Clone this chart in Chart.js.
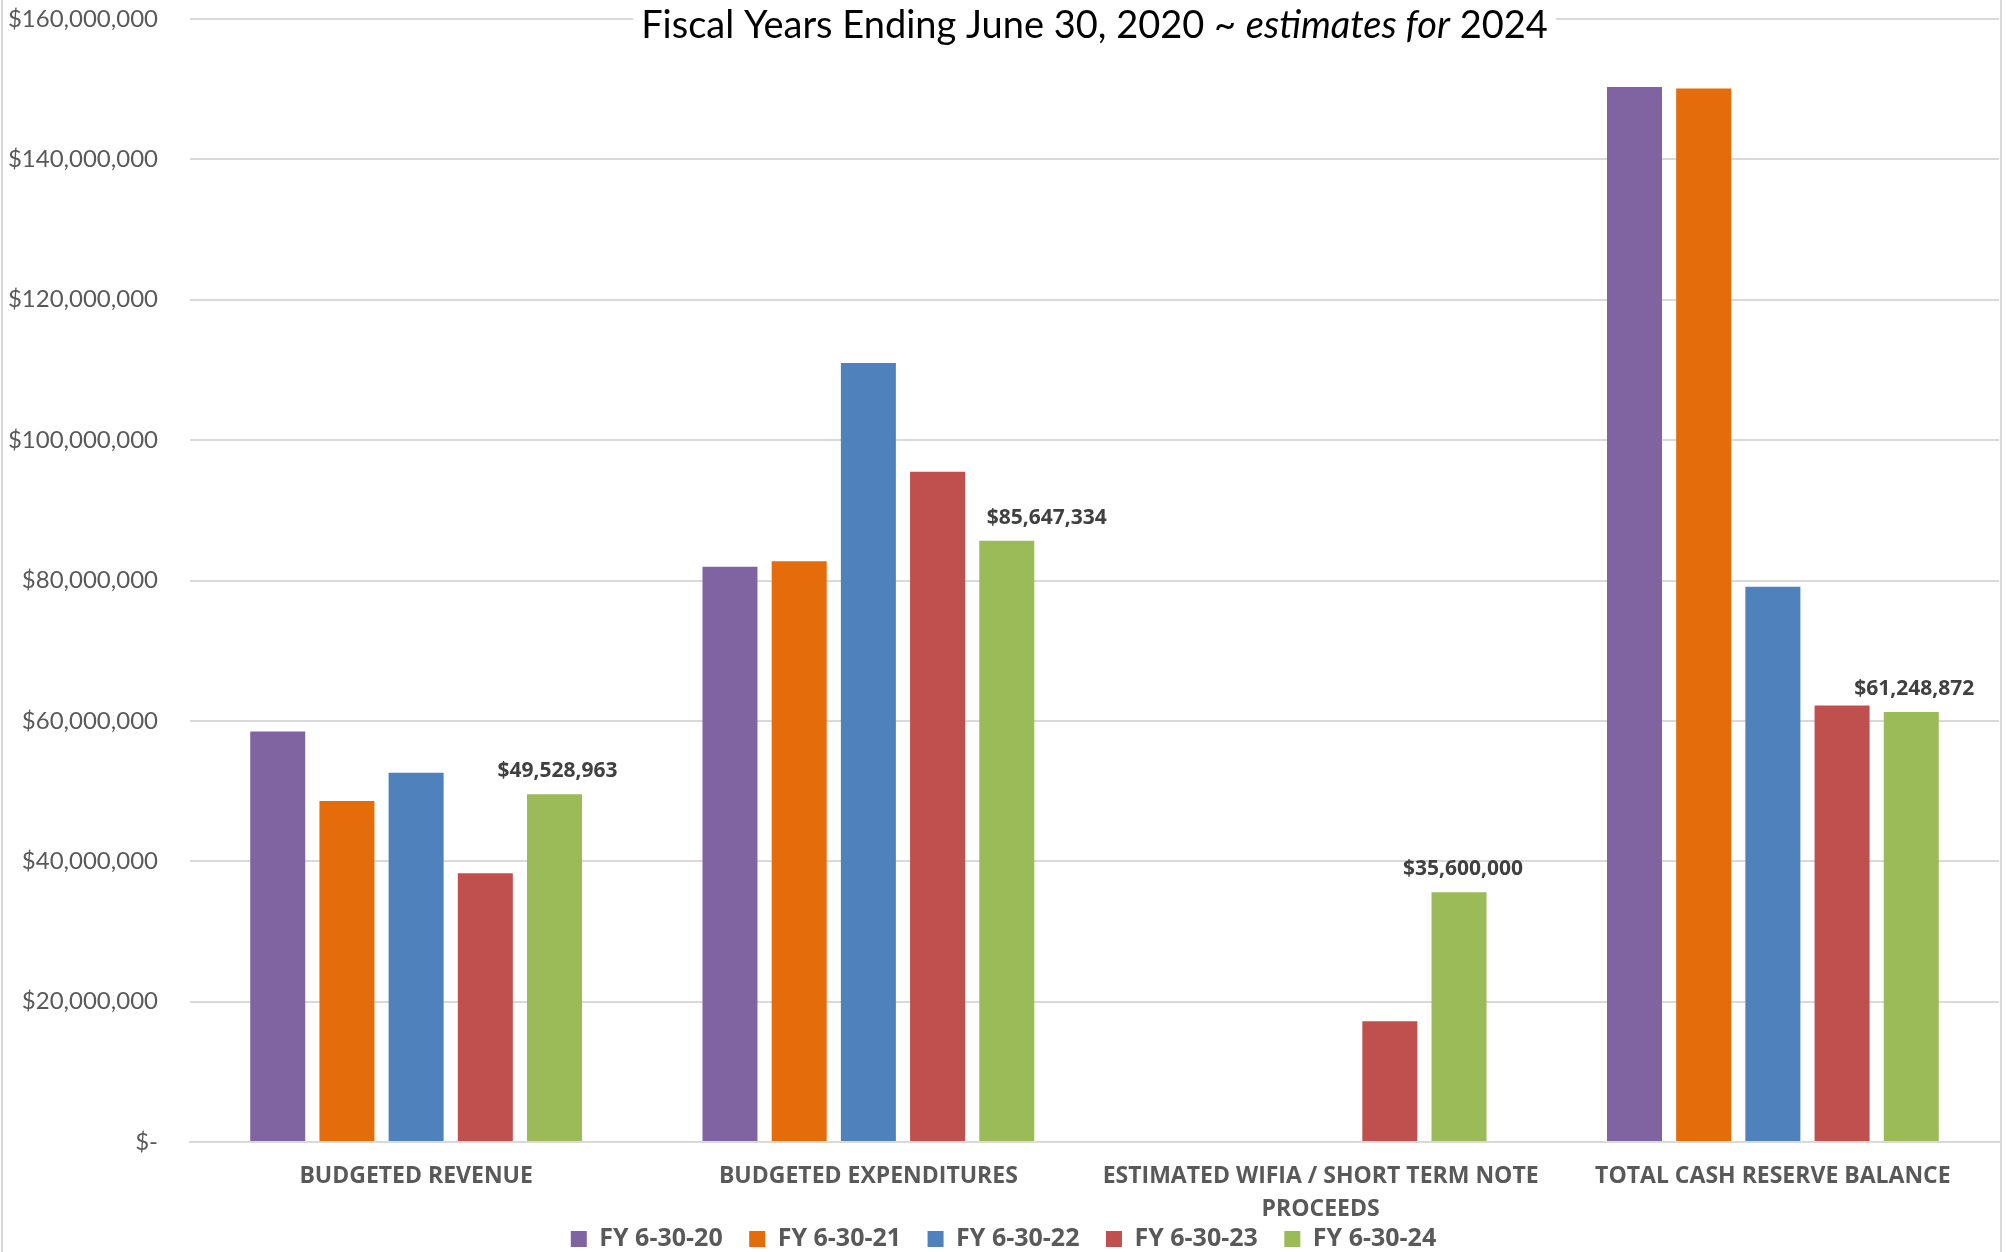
<!DOCTYPE html>
<html lang="en">
<head>
<meta charset="UTF-8">
<title>Fiscal Years Ending June 30, 2020 ~ estimates for 2024</title>
<script src="https://cdn.jsdelivr.net/npm/chart.js"></script>
<style>
  html, body { margin: 0; padding: 0; background: #fff; }
  .wrap { width: 2007px; height: 1252px; position: relative; }
</style>
</head>
<body>
<div class="wrap"><canvas id="fiscalChart"></canvas></div>
<script>
// categories and series
const categories = [
  'BUDGETED REVENUE',
  'BUDGETED EXPENDITURES',
  ['ESTIMATED WIFIA / SHORT TERM NOTE', 'PROCEEDS'],
  'TOTAL CASH RESERVE BALANCE'
];
const seriesNames = ['FY 6-30-20', 'FY 6-30-21', 'FY 6-30-22', 'FY 6-30-23', 'FY 6-30-24'];
const fy20 = [58500000, 81950000, null, 150300000];
const fy21 = [48600000, 82750000, null, 150100000];
const fy22 = [52600000, 111000000, null, 79100000];
const fy23 = [38300000, 95500000, 17200000, 62200000];
const fy24 = [49528963, 85647334, 35600000, 61248872];
const seriesColors = ['#8064A2', '#E46C0A', '#4F81BD', '#C0504D', '#9BBB59'];
const yTicks = [0, 20000000, 40000000, 60000000, 80000000, 100000000, 120000000, 140000000, 160000000];
// horizontal nudge of each value label (px), like the excel label placement
const labelShift = [3, 40, 4, 3];

const FONT = 'Lato, "Open Sans", sans-serif';
const BOLD_FONT = '"Open Sans", Lato, sans-serif';

function money(v) {
  return v === 0 ? '$-' : '$' + v.toLocaleString('en-US');
}

// frame lines + title with italic part
const framePlugin = {
  id: 'frame',
  beforeDraw(chart) {
    const ctx = chart.ctx;
    ctx.save();
    ctx.fillStyle = '#fff';
    ctx.fillRect(0, 0, chart.width, chart.height);
    ctx.fillStyle = '#d9d9d9';
    ctx.fillRect(1, 0, 2, chart.height);
    ctx.fillRect(2000, 0, 2, chart.height);
    ctx.restore();
  },
  afterDraw(chart) {
    const ctx = chart.ctx;
    const parts = [
      { t: 'Fiscal Years Ending June 30, 2020 ~ ', f: '38px ' + FONT },
      { t: 'estimates for', f: 'italic 38px ' + FONT },
      { t: ' 2024', f: '38px ' + FONT }
    ];
    ctx.save();
    let total = 0;
    parts.forEach(p => { ctx.font = p.f; p.w = ctx.measureText(p.t).width; total += p.w; });
    const cx = (chart.chartArea.left + chart.chartArea.right) / 2;
    let x = cx - total / 2;
    ctx.fillStyle = '#fff';
    ctx.fillRect(x - 8, 4, total + 16, 44);
    ctx.fillStyle = '#000';
    ctx.textBaseline = 'alphabetic';
    ctx.textAlign = 'left';
    parts.forEach(p => { ctx.font = p.f; ctx.fillText(p.t, x, 38); x += p.w; });
    ctx.restore();
  }
};

// value labels on the last series only
const labelPlugin = {
  id: 'lastLabels',
  afterDatasetsDraw(chart) {
    const ctx = chart.ctx;
    const idx = chart.data.datasets.length - 1;
    const meta = chart.getDatasetMeta(idx);
    ctx.save();
    ctx.font = 'bold 21px ' + BOLD_FONT;
    ctx.fillStyle = '#404040';
    ctx.textAlign = 'center';
    ctx.textBaseline = 'alphabetic';
    meta.data.forEach((bar, i) => {
      const v = chart.data.datasets[idx].data[i];
      if (v == null) return;
      ctx.fillText(money(v), bar.x + labelShift[i], bar.y - 17);
    });
    ctx.restore();
  }
};

const seriesData = [fy20, fy21, fy22, fy23, fy24];

new Chart(document.getElementById('fiscalChart'), {
  type: 'bar',
  data: {
    labels: categories,
    datasets: seriesNames.map((name, i) => ({
      label: name,
      data: seriesData[i],
      backgroundColor: seriesColors[i],
      borderWidth: 0,
      categoryPercentage: 0.765,
      barPercentage: 0.795
    }))
  },
  options: {
    responsive: true,
    maintainAspectRatio: false,
    animation: false,
    layout: { padding: { top: 19, right: 8, left: 8, bottom: -9.5 } },
    plugins: {
      title: { display: false },
      tooltip: { enabled: false },
      legend: {
        position: 'bottom',
        labels: {
          boxWidth: 16,
          boxHeight: 16,
          padding: 26.5,
          color: '#595959',
          font: { family: BOLD_FONT, size: 25, weight: 'bold' }
        }
      }
    },
    scales: {
      x: {
        grid: { display: false },
        border: { color: '#d9d9d9', width: 2 },
        afterFit(axis) {
          axis.height = 58;
          // let the two-line label run below the axis box
          axis._computeLabelArea = () => null;
        },
        ticks: {
          color: '#595959',
          padding: 10,
          maxRotation: 0,
          autoSkip: false,
          font: { family: BOLD_FONT, size: 23, weight: 'bold', lineHeight: 1.435 }
        }
      },
      y: {
        min: 0,
        max: 160000000,
        afterBuildTicks(axis) { axis.ticks = yTicks.map(v => ({ value: v })); },
        afterFit(axis) {
          axis.width = 182;
          axis.paddingTop = 0;
          axis.paddingBottom = 0;
        },
        grid: { color: '#d9d9d9', lineWidth: 2, drawTicks: false },
        border: { display: false },
        ticks: {
          color: '#595959',
          padding: 32,
          font: { family: FONT, size: 24 },
          callback: v => money(v)
        }
      }
    }
  },
  plugins: [framePlugin, labelPlugin]
});
</script>
</body>
</html>
